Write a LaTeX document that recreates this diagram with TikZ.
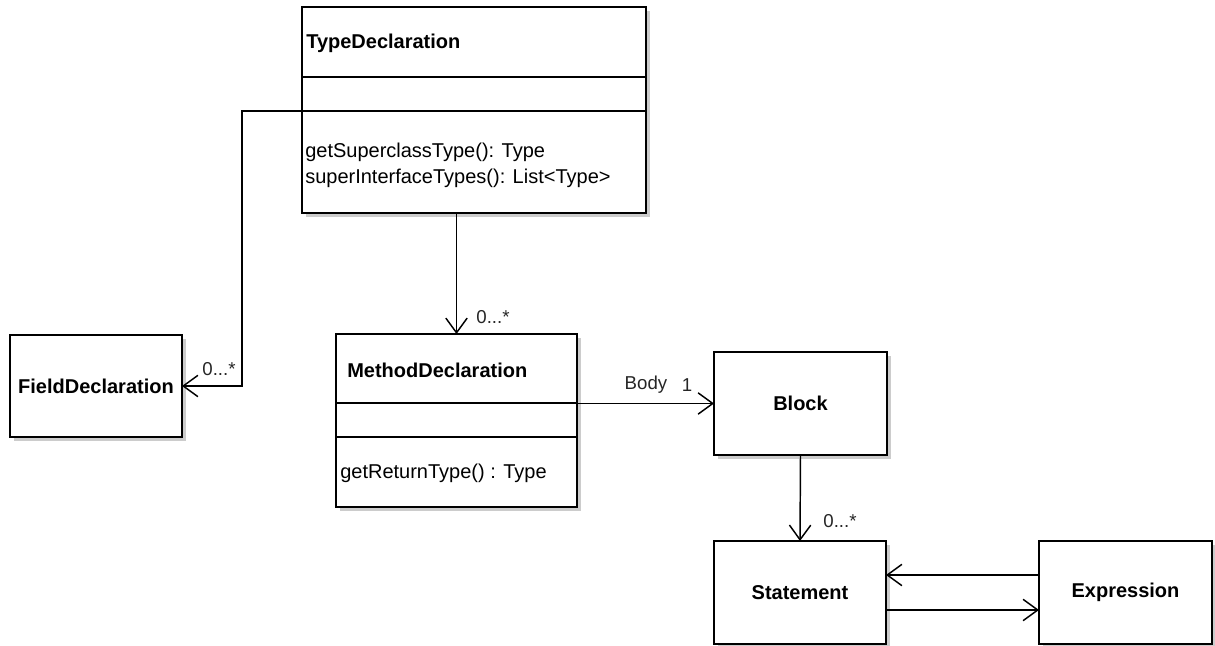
\documentclass[tikz,border=0pt]{standalone}
\usepackage{fontspec}
\setmainfont{Liberation Sans}
\usetikzlibrary{arrows.meta,calc,shadows}
\begin{document}
\begin{tikzpicture}[x=0.75pt,y=-0.75pt,
  box/.style={draw, line width=1.1pt, fill=white, inner sep=0pt, outer sep=0pt,
    drop shadow={shadow xshift=3pt, shadow yshift=-3pt, fill=black!20, opacity=1}},
  cname/.style={font=\fontsize{15}{17}\selectfont\bfseries, inner sep=0pt},
  meth/.style={font=\fontsize{15}{19.5}\selectfont, inner sep=0pt, anchor=west, align=left},
  mult/.style={font=\fontsize{14}{15}\selectfont, inner sep=0pt, text=black!85},
  divider/.style={line width=1.1pt},
  assoc/.style={line width=1.1pt, -{Straight Barb[length=11pt,width=16pt,line width=1.1pt]}}]
\useasboundingbox (0,0) rectangle (1215,646);

% class boxes
\node[box, minimum width=258pt, minimum height=154.5pt] (td) at (474,110) {};
\node[box, minimum width=129pt, minimum height=76.5pt] (fd) at (96,386) {};
\node[box, minimum width=180.75pt, minimum height=129.75pt] (md) at (456.5,420.5) {};
\node[box, minimum width=129.75pt, minimum height=77.25pt] (blk) at (800.5,403.5) {};
\node[box, minimum width=129pt, minimum height=77.25pt] (st) at (800,592.5) {};
\node[box, minimum width=129.75pt, minimum height=77.25pt] (ex) at (1125.5,592.5) {};

% compartments
\draw[divider] ($(td.north west)+(0,70)$) -- ($(td.north east)+(0,70)$);
\draw[divider] ($(td.north west)+(0,104)$) -- ($(td.north east)+(0,104)$);
\draw[divider] ($(md.north west)+(0,69)$) -- ($(md.north east)+(0,69)$);
\draw[divider] ($(md.north west)+(0,103)$) -- ($(md.north east)+(0,103)$);

% texts
\node[cname, anchor=west] (tdname) at (306,43) {TypeDeclaration};
\node[meth] (tdm) at (305,165) {getSuperclassType(): Type\\superInterfaceTypes(): List<Type>};
\node[cname] (fdname) at (fd.center) {FieldDeclaration};
\node[cname, anchor=west] (mdname) at (347,370) {MethodDeclaration};
\node[meth] (mdm) at (340,473) {getReturnType() : Type};
\node[cname] (blkname) at (blk.center) {Block};
\node[cname] (stname) at (st.center) {Statement};
\node[cname] (exname) at (ex.center) {Expression};

% connectors
\coordinate (bend) at (242,111);
\draw[assoc] (td.west |- bend) -- (bend) |- (fd.east);
\node[mult] (m1) at (219,369) {0...*};

\draw[assoc] (td.south -| md.north) -- (md.north);
\node[mult] (m2) at (493,317) {0...*};

\draw[assoc] (md.east |- blk.west) -- (blk.west);
\node[mult] (body) at (646,385) {Body};
\node[mult] (one) at (687,385) {1};

\draw[assoc] (blk.south) -- (st.north);
\node[mult] (m3) at (840,521) {0...*};

\draw[assoc] ($(ex.west)+(0,-17.5)$) -- ($(st.east)+(0,-17.5)$);
\draw[assoc] ($(st.east)+(0,17.5)$) -- ($(ex.west)+(0,17.5)$);
\end{tikzpicture}
\end{document}
